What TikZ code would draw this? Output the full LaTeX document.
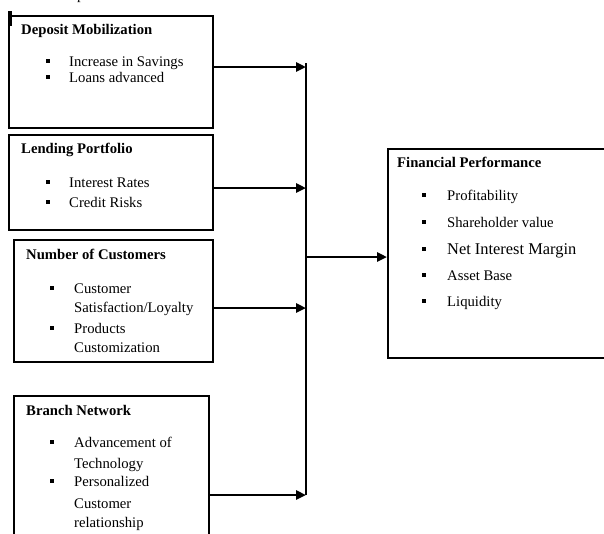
\documentclass[tikz,border=0pt]{standalone}
\usepackage{fontspec}
\setmainfont{Liberation Serif}
\usetikzlibrary{arrows.meta}
\usetikzlibrary{calc}
\usetikzlibrary{positioning}

\tikzset{
  box/.style={draw, line width=1.7pt, rectangle, inner sep=0pt, anchor=north west},
  ttl/.style={anchor=base west, inner sep=0pt, font=\fontsize{14.7}{16}\selectfont\bfseries},
  itm/.style={anchor=base west, inner sep=0pt, font=\fontsize{14.7}{16}\selectfont},
  bul/.style={fill=black, minimum size=3.8pt, inner sep=0pt},
  feed/.style={line width=2.6pt, -{Triangle[length=10pt, width=9pt]}},
  bus/.style={line width=2.6pt}
}

\begin{document}
\begin{tikzpicture}[x=1pt, y=-1pt, line cap=butt, line join=miter]
  \useasboundingbox (0,0) rectangle (604,533);
  \clip (0,0) rectangle (604,533);
  \fill[white] (0,0) rectangle (604,533);

  % fragment of heading above
  \node[itm] (head) at (77,-0.5) {p};

  % boxes on the left
  \node[box, minimum width=204pt, minimum height=112pt] (dm) at (8,15) {};
  \draw[line width=3.5pt] (10,11) -- (10,26);
  \node[box, minimum width=204pt, minimum height=95pt] (lp) at (8,134) {};
  \node[box, minimum width=199pt, minimum height=122pt] (nc) at (13,239) {};
  \node[box, minimum width=195pt, minimum height=160pt] (bn) at (13,395) {};

  % box on the right
  \node[box, minimum width=230pt, minimum height=209pt] (fp) at (387,148) {};

  % Deposit Mobilization
  \node[ttl] (dmt) at (21,34) {Deposit Mobilization};
  \node[bul] (dmb1) at (48,61) {};
  \node[bul] (dmb2) at (48,77) {};
  \node[itm] (dmi1) at (69,66) {Increase in Savings};
  \node[itm] (dmi2) at (69,82) {Loans advanced};

  % Lending Portfolio
  \node[ttl] (lpt) at (21,153) {Lending Portfolio};
  \node[bul] (lpb1) at (48,182) {};
  \node[bul] (lpb2) at (48,202) {};
  \node[itm] (lpi1) at (69,187) {Interest Rates};
  \node[itm] (lpi2) at (69,207) {Credit Risks};

  % Number of Customers
  \node[ttl] (nct) at (26,259) {Number of Customers};
  \node[bul] (ncb1) at (52,288) {};
  \node[bul] (ncb2) at (52,328) {};
  \node[itm] (nci1) at (74,293) {Customer};
  \node[itm] (nci2) at (74,312) {Satisfaction/Loyalty};
  \node[itm] (nci3) at (74,333) {Products};
  \node[itm] (nci4) at (74,352) {Customization};

  % Branch Network
  \node[ttl] (bnt) at (26,415) {Branch Network};
  \node[bul] (bnb1) at (52,442) {};
  \node[bul] (bnb2) at (52,481) {};
  \node[itm] (bni1) at (74,447) {Advancement of};
  \node[itm] (bni2) at (74,468) {Technology};
  \node[itm] (bni3) at (74,486) {Personalized};
  \node[itm] (bni4) at (74,508) {Customer};
  \node[itm] (bni5) at (74,527) {relationship};

  % Financial Performance
  \node[ttl] (fpt) at (397,167) {Financial Performance};
  \node[bul] (fpb1) at (424,195) {};
  \node[bul] (fpb2) at (424,222) {};
  \node[bul] (fpb3) at (424,249) {};
  \node[bul] (fpb4) at (424,275) {};
  \node[bul] (fpb5) at (424,301) {};
  \node[itm] (fpi1) at (447,200) {Profitability};
  \node[itm] (fpi2) at (447,227) {Shareholder value};
  \node[itm, font=\fontsize{16.4}{18}\selectfont] (fpi3) at (447,254.5) {Net Interest Margin};
  \node[itm] (fpi4) at (447,280) {Asset Base};
  \node[itm] (fpi5) at (447,306) {Liquidity};

  % collecting line
  \coordinate (j1) at (306,67);
  \coordinate (j2) at (306,188);
  \coordinate (j3) at (306,308);
  \coordinate (j4) at (306,495);
  \coordinate (jm) at (306,257);
  \draw[bus] ($(j1)+(0,-4)$) -- (j4);

  % arrows into the line
  \draw[feed] (dm.east |- j1) -- (j1);
  \draw[feed] (lp.east |- j2) -- (j2);
  \draw[feed] (nc.east |- j3) -- (j3);
  \draw[feed] (bn.east |- j4) -- (j4);
  \draw[feed] (jm) -- (fp.west |- jm);
\end{tikzpicture}
\end{document}
